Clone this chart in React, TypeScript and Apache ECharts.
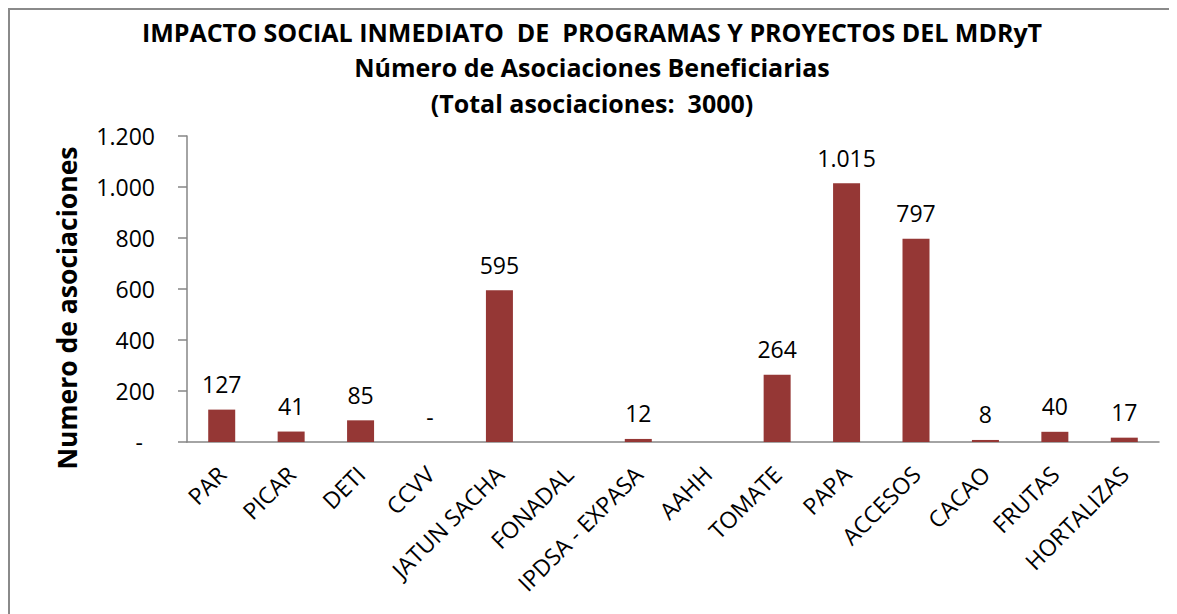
import React, { useEffect, useRef } from 'react';
import * as echarts from 'echarts';

const titleLines = [
  'IMPACTO SOCIAL INMEDIATO  DE  PROGRAMAS Y PROYECTOS DEL MDRyT',
  'Número de Asociaciones Beneficiarias',
  '(Total asociaciones:  3000)',
];
const yAxisTitle = 'Numero de asociaciones';
const categories = [
  'PAR', 'PICAR', 'DETI', 'CCVV', 'JATUN SACHA', 'FONADAL', 'IPDSA - EXPASA',
  'AAHH', 'TOMATE', 'PAPA', 'ACCESOS', 'CACAO', 'FRUTAS', 'HORTALIZAS',
];
const asociaciones: (number | null)[] = [127, 41, 85, 0, 595, null, 12, null, 264, 1015, 797, 8, 40, 17];
const yTicks = [0, 200, 400, 600, 800, 1000, 1200];

const FONT = "'Open Sans', 'Noto Sans', sans-serif";

function fmt(v: number): string {
  if (v === 0) return '-';
  const s = Math.round(v).toString();
  return s.replace(/\B(?=(\d{3})+(?!\d))/g, '.');
}

export default function App() {
  const ref = useRef<HTMLDivElement>(null);
  useEffect(() => {
    document.documentElement.style.overflow = 'hidden';
    const chart = echarts.init(ref.current!, null, { renderer: 'svg' });
    const titleY = [22, 57, 93];
    chart.setOption({
      animation: false,
      backgroundColor: '#ffffff',
      grid: { left: 177, top: 126, width: 972, height: 306, containLabel: false },
      xAxis: {
        type: 'category',
        data: categories,
        axisLine: { show: true, lineStyle: { color: '#868686', width: 1.5 } },
        axisTick: { show: false },
        axisLabel: {
          rotate: 45,
          interval: 0,
          margin: 28,
          color: '#000',
          fontFamily: FONT,
          fontSize: 23,
        },
      },
      yAxis: {
        type: 'value',
        min: yTicks[0],
        max: yTicks[yTicks.length - 1],
        interval: 200,
        splitLine: { show: false },
        axisLine: { show: true, lineStyle: { color: '#868686', width: 1.5 } },
        axisTick: { show: true, length: 9, lineStyle: { color: '#868686', width: 1.5 } },
        axisLabel: {
          margin: 32,
          color: '#000',
          fontFamily: FONT,
          fontSize: 23,
          formatter: (v: number) => (v === 0 ? '{d|-}' : fmt(v)),
          rich: { d: { padding: [0, 12, 0, 0], fontSize: 23, fontFamily: FONT, color: '#000' } },
        },
      },
      series: [
        {
          type: 'bar',
          data: asociaciones,
          barWidth: 27,
          itemStyle: { color: '#953735' },
          label: {
            show: true,
            position: 'top',
            distance: 14,
            color: '#000',
            fontFamily: FONT,
            fontSize: 23,
            formatter: (p: any) => (p.value == null ? '' : fmt(p.value)),
          },
        },
      ],
      graphic: [
        ...titleLines.map((t, i) => ({
          type: 'text',
          x: 582,
          y: titleY[i],
          style: {
            text: t,
            fontFamily: FONT,
            fontWeight: 'bold',
            fontSize: 25,
            fill: '#000',
            align: 'center',
            verticalAlign: 'middle',
          },
        })),
        {
          type: 'text',
          x: 57,
          y: 298,
          rotation: Math.PI / 2,
          style: {
            text: yAxisTitle,
            fontFamily: FONT,
            fontWeight: 'bold',
            fontSize: 26.5,
            fill: '#000',
            align: 'center',
            verticalAlign: 'middle',
          },
        },
      ],
    });
    return () => chart.dispose();
  }, []);
  return (
    <div
      style={{
        width: 1200,
        height: 640,
        boxSizing: 'border-box',
        borderLeft: '2px solid #8a8a8a',
        borderTop: '2px solid #8a8a8a',
      }}
    >
      <div ref={ref} style={{ width: 1180, height: 620 }} />
    </div>
  );
}
